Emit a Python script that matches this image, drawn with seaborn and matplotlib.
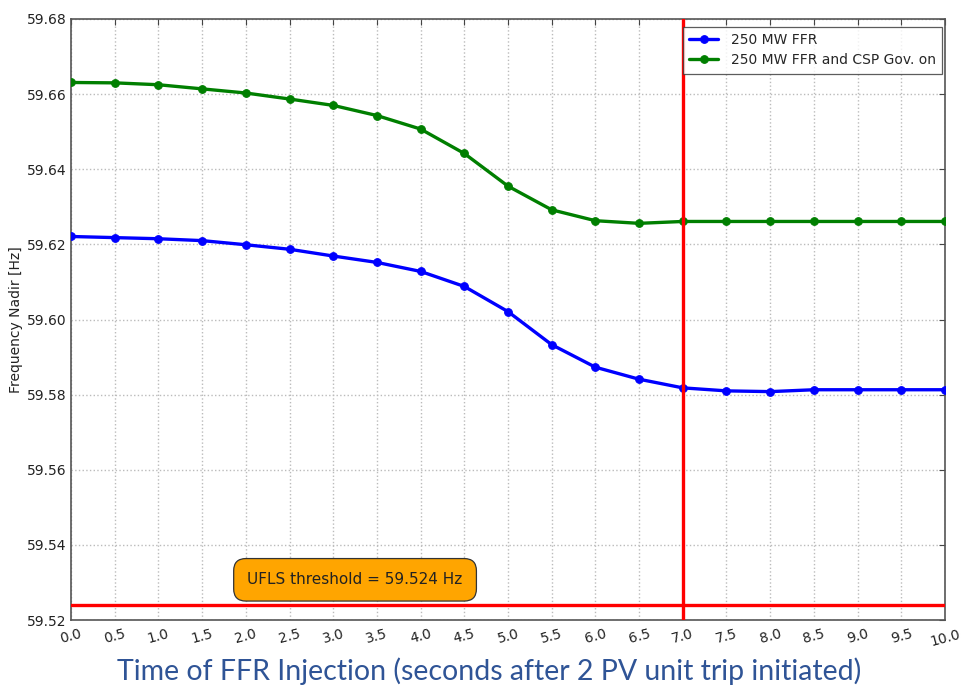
import matplotlib
matplotlib.use("Agg")
import matplotlib.pyplot as plt
import seaborn as sns
import pandas as pd

time_s = [0.0, 0.5, 1.0, 1.5, 2.0, 2.5, 3.0, 3.5, 4.0, 4.5, 5.0,
          5.5, 6.0, 6.5, 7.0, 7.5, 8.0, 8.5, 9.0, 9.5, 10.0]
ffr_only = [59.6221, 59.6218, 59.6215, 59.6210, 59.6199, 59.6187, 59.6169,
            59.6152, 59.6128, 59.6088, 59.6021, 59.5933, 59.5873, 59.5841,
            59.5818, 59.5810, 59.5808, 59.5813, 59.5813, 59.5813, 59.5813]
ffr_csp = [59.6631, 59.6630, 59.6625, 59.6614, 59.6603, 59.6587, 59.6570,
           59.6543, 59.6507, 59.6442, 59.6355, 59.6292, 59.6263, 59.6256,
           59.6261, 59.6261, 59.6261, 59.6261, 59.6261, 59.6261, 59.6261]
series_names = ["250 MW FFR", "250 MW FFR and CSP Gov. on"]
ufls_threshold = 59.524
ffr_marker_time = 7.0
x_ticks = [0.0, 0.5, 1.0, 1.5, 2.0, 2.5, 3.0, 3.5, 4.0, 4.5, 5.0,
           5.5, 6.0, 6.5, 7.0, 7.5, 8.0, 8.5, 9.0, 9.5, 10.0]
y_ticks = [59.52, 59.54, 59.56, 59.58, 59.60, 59.62, 59.64, 59.66, 59.68]

df = pd.DataFrame({
    "time": time_s * 2,
    "freq": ffr_only + ffr_csp,
    "series": [series_names[0]] * len(time_s) + [series_names[1]] * len(time_s),
})

sns.set_style("white")
plt.rcParams["font.family"] = ["DejaVu Sans"]

fig = plt.figure(figsize=(9.62, 6.85), dpi=100)
ax = fig.add_axes([71 / 962, 1 - 620 / 685, (945 - 71) / 962, (620 - 19) / 685])

sns.lineplot(data=df, x="time", y="freq", hue="series",
             palette=["#0000ff", "#007f00"], marker="o", markersize=5.5,
             markeredgewidth=0.8, linewidth=2.4, ax=ax, zorder=3)
for ln in ax.lines:
    ln.set_markeredgecolor(ln.get_color())

ax.axhline(ufls_threshold, color="red", linewidth=2.4, zorder=4)
ax.axvline(ffr_marker_time, color="red", linewidth=2.4, zorder=4)

ax.text(3.25, 59.5307, "UFLS threshold = 59.524 Hz", fontsize=11,
        ha="center", va="center", color="#222222",
        bbox=dict(boxstyle="round,pad=0.9,rounding_size=0.8",
                  facecolor="#ffa500", edgecolor="#333333", linewidth=0.9),
        zorder=5)

ax.set_xlim(0, 10)
ax.set_ylim(59.52, 59.68)
ax.set_xticks(x_ticks)
ax.set_xticklabels([f"{v:.1f}" for v in x_ticks], rotation=15, fontsize=10)
ax.set_yticks(y_ticks)
ax.set_yticklabels([f"{v:.2f}" for v in y_ticks], fontsize=10)
ax.tick_params(direction="in", length=4, color="#444444", labelcolor="#222222",
               top=True, right=True)
ax.tick_params(axis="y", pad=3)
ax.tick_params(axis="x", pad=5)
ax.grid(True, linestyle=":", color="#bbbbbb", linewidth=1.0)
for sp in ax.spines.values():
    sp.set_color("#555555")
    sp.set_linewidth(1.2)

ax.set_ylabel("Frequency Nadir [Hz]", fontsize=10, color="#222222", labelpad=3)
ax.set_xlabel("")
fig.text(0.508, 5 / 685, "Time of FFR Injection (seconds after 2 PV unit trip initiated)",
         ha="center", va="baseline", fontsize=20.5, color="#2f5496",
         family=["Lato", "DejaVu Sans"])

leg = ax.legend(loc="upper right", fontsize=10, frameon=True, fancybox=False,
                borderpad=0.45, handlelength=2.1, handletextpad=0.9,
                labelspacing=0.45, bbox_to_anchor=(0.9966, 0.987),
                borderaxespad=0)
leg.get_frame().set_edgecolor("#333333")
leg.get_frame().set_linewidth(0.9)
for h in leg.legend_handles:
    h.set_markeredgecolor(h.get_color())

fig.savefig("out.png", dpi=100)
